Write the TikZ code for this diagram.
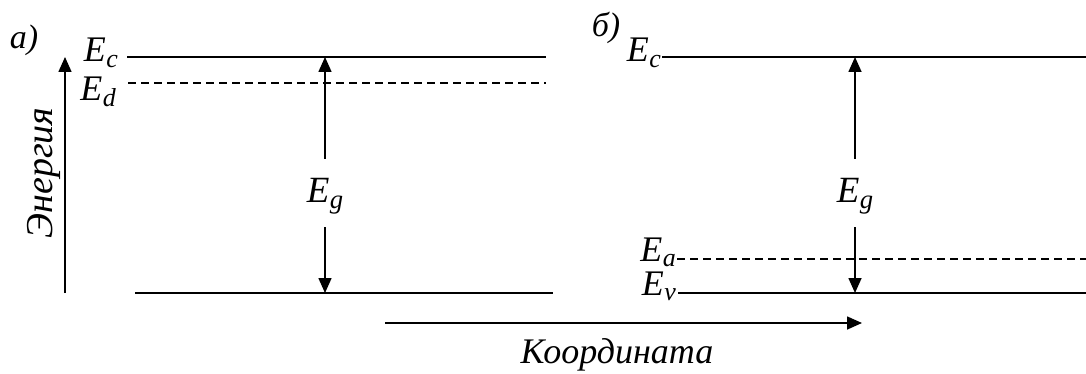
\documentclass[tikz,border=0pt]{standalone}
\usepackage{fontspec}
\setmainfont{Liberation Serif}
\usetikzlibrary{arrows.meta}
\newcommand{\En}[1]{\textit{E}\kern0.5pt\raisebox{-0.16em}{\fontsize{0.72em}{1em}\selectfont\textit{#1}}}
\begin{document}
\begin{tikzpicture}[x=1pt,y=-1pt,
  lev/.style={line width=1.6pt},
  dlev/.style={line width=1.4pt,dash pattern=on 8pt off 5pt},
  arr/.style={line width=1.6pt,-{Triangle[length=15pt,width=13pt]}},
  lab/.style={font=\fontsize{36}{38}\selectfont\itshape,inner sep=0pt},
  elab/.style={font=\fontsize{36}{38}\selectfont,inner sep=0pt},
  glab/.style={font=\fontsize{37}{40}\selectfont,inner sep=0pt}]
\useasboundingbox (0,0) rectangle (1086,374);
% panel labels
\node[font=\fontsize{34}{36}\selectfont\itshape,inner sep=0pt] (pa) at (24,40) {а)};
\node[font=\fontsize{34}{36}\selectfont\itshape,inner sep=0pt] (pb) at (606,28) {б)};
% left panel
\coordinate (ecl1) at (127,57); \coordinate (ecl2) at (546,57);
\coordinate (edl1) at (128,83); \coordinate (edl2) at (546,83);
\coordinate (evl1) at (135,293); \coordinate (evl2) at (553,293);
\draw[lev] (ecl1) -- (ecl2);
\draw[dlev] (edl1) -- (edl2);
\draw[lev] (evl1) -- (evl2);
\node[elab,anchor=base east] (lec) at (118,62) {\En{c}};
\node[elab,anchor=base east] (led) at (116,101) {\En{d}};
% energy axis
\coordinate (ax0) at (65,293); \coordinate (ax1) at (65,57);
\draw[arr] (ax0) -- (ax1);
\node[font=\fontsize{38}{40}\selectfont\itshape,inner sep=0pt,rotate=90] (en) at (44,173) {Энергия};
% left Eg
\node[glab,anchor=base] (egl) at (325,203) {\En{g}};
\coordinate (egl1) at (325,57); \coordinate (egl2) at (325,293);
\coordinate (egla) at (325,159); \coordinate (eglb) at (325,227);
\draw[arr] (egla) -- (egl1);
\draw[arr] (eglb) -- (egl2);
% right panel
\coordinate (ecr1) at (662,57); \coordinate (ecr2) at (1086,57);
\coordinate (ear1) at (677,259); \coordinate (ear2) at (1086,259);
\coordinate (evr1) at (678,293); \coordinate (evr2) at (1086,293);
\draw[lev] (ecr1) -- (ecr2);
\draw[dlev] (ear1) -- (ear2);
\draw[lev] (evr1) -- (evr2);
\node[elab,anchor=base east] (rec) at (661,62) {\En{c}};
\node[elab,anchor=base east] (rea) at (676,261) {\En{a}};
\node[elab,anchor=base east] (rev) at (676,295) {\En{v}};
\node[glab,anchor=base] (egr) at (855,203) {\En{g}};
\coordinate (egr1) at (855,57); \coordinate (egr2) at (855,293);
\coordinate (egra) at (855,159); \coordinate (egrb) at (855,227);
\draw[arr] (egra) -- (egr1);
\draw[arr] (egrb) -- (egr2);
% coordinate axis
\coordinate (cx0) at (385,323); \coordinate (cx1) at (862,323);
\draw[arr] (cx0) -- (cx1);
\node[lab] (ko) at (617,355) {Координата};
\end{tikzpicture}
\end{document}
